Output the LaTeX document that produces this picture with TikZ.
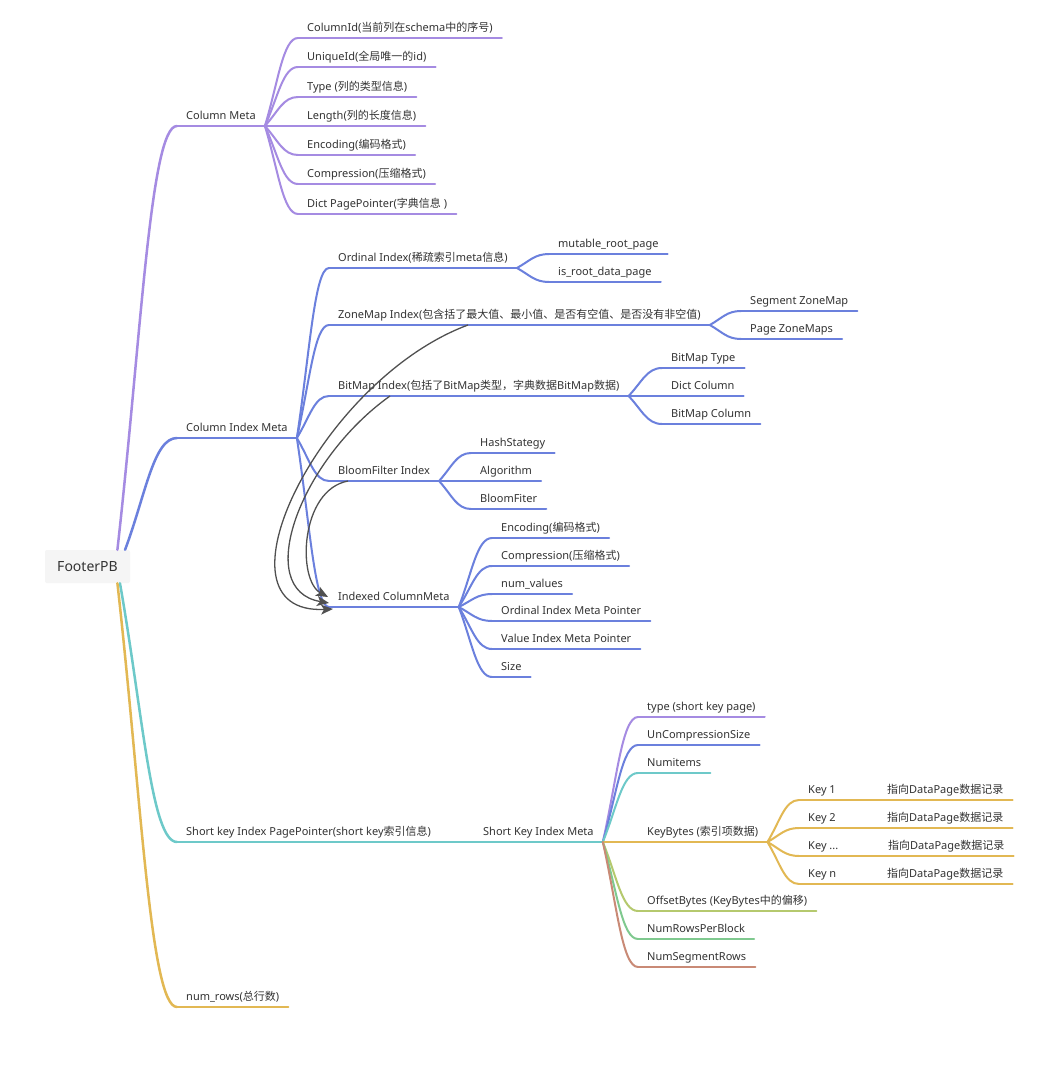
\documentclass[tikz,border=0pt]{standalone}
\usepackage{fontspec}
\setmainfont{Noto Sans}
\newfontfamily\cjkfont{Noto Sans CJK SC}
\usetikzlibrary{calc,arrows.meta}
\newcommand\zh[1]{{\cjkfont #1}}
\definecolor{cpurple}{HTML}{A58BE2}
\definecolor{cblue}{HTML}{6B80DD}
\definecolor{cteal}{HTML}{6DC9C9}
\definecolor{cyellow}{HTML}{E2B853}
\definecolor{cygreen}{HTML}{B5C96E}
\definecolor{cgreen}{HTML}{7FC98F}
\definecolor{cbrown}{HTML}{C98A76}
\definecolor{ctext}{HTML}{333333}
\definecolor{carrow}{HTML}{505050}
\definecolor{rootfill}{HTML}{F5F5F5}
\newcommand\mmlink[3]{%
  \draw[#3] let \p1=(#1), \p2=(#2) in
    (\p1) .. controls ({\x1+0.4*(\x2-\x1)},{\y1+0.5*(\y2-\y1)}) and ({\x1+0.55*(\x2-\x1)},{\y2}) .. (\p2);}
\newcommand\topic[5]{%
  \node[topic] (#1) at (#2,#3) {#5};
  \draw[ln,#4] (#1.south west) -- (#1.south east);}
\begin{document}
\begin{tikzpicture}[x=1pt,y=-1pt,
  topic/.style={anchor=south west, inner xsep=9pt, inner ysep=0pt, text height=8pt, text depth=6pt, font=\fontsize{11}{13}\selectfont, text=ctext},
  ln/.style={line width=2pt, line cap=round},
  lone/.style={line width=2.5pt, line cap=round},
  garrow/.style={draw=carrow, line width=1.3pt, -{Stealth[length=12pt,width=10pt,inset=3pt]}}
]
\useasboundingbox (0,0) rectangle (1042,1086);
\fill[white] (0,0) rectangle (1042,1086);

% root
\node[fill=rootfill, rounded corners=2pt, minimum width=85pt, minimum height=33pt, inner sep=0pt, font=\fontsize{14}{16}\selectfont, text=ctext] (root) at (87.5,566.5) {FooterPB};
\coordinate (rt1) at ($(root.north west)!0.85!(root.north east)$);
\coordinate (rt2) at ($(root.north west)!0.94!(root.north east)$);
\coordinate (rb1) at ($(root.south west)!0.88!(root.south east)$);
\coordinate (rb2) at ($(root.south west)!0.85!(root.south east)$);

% Column Meta
\topic{cm}{177}{126}{cpurple}{Column Meta}
\topic{cm1}{298}{38}{cpurple}{ColumnId(\zh{当前列在}schema\zh{中的序号})}
\topic{cm2}{298}{67}{cpurple}{UniqueId(\zh{全局唯一的}id)}
\topic{cm3}{298}{97}{cpurple}{Type (\zh{列的类型信息})}
\topic{cm4}{298}{126}{cpurple}{Length(\zh{列的长度信息})}
\topic{cm5}{298}{155}{cpurple}{Encoding(\zh{编码格式})}
\topic{cm6}{298}{184}{cpurple}{Compression(\zh{压缩格式})}
\topic{cm7}{298}{214}{cpurple}{Dict PagePointer(\zh{字典信息} )}
\foreach \i in {1,...,7} {\mmlink{cm.south east}{cm\i.south west}{ln,cpurple}}

% Column Index Meta
\topic{cim}{177}{438}{cblue}{Column Index Meta}
\topic{oi}{329}{268}{cblue}{Ordinal Index(\zh{稀疏索引}meta\zh{信息})}
\topic{oi1}{549}{254}{cblue}{mutable\_root\_page}
\topic{oi2}{549}{282}{cblue}{is\_root\_data\_page}
\topic{zm}{329}{325}{cblue}{ZoneMap Index(\zh{包含括了最大值、最小值、是否有空值、是否没有非空值})}
\topic{zm1}{741}{311}{cblue}{Segment ZoneMap}
\topic{zm2}{741}{339}{cblue}{Page ZoneMaps}
\topic{bm}{329}{396}{cblue}{BitMap Index(\zh{包括了}BitMap\zh{类型，字典数据}BitMap\zh{数据})}
\topic{bm1}{662}{368}{cblue}{BitMap Type}
\topic{bm2}{662}{396}{cblue}{Dict Column}
\topic{bm3}{662}{424}{cblue}{BitMap Column}
\topic{bf}{329}{481}{cblue}{BloomFilter Index}
\topic{bf1}{471}{453}{cblue}{HashStategy}
\topic{bf2}{471}{481}{cblue}{Algorithm}
\topic{bf3}{471}{509}{cblue}{BloomFiter}
\topic{icm}{329}{607}{cblue}{Indexed ColumnMeta}
\topic{ic1}{492}{538}{cblue}{Encoding(\zh{编码格式})}
\topic{ic2}{492}{566}{cblue}{Compression(\zh{压缩格式})}
\topic{ic3}{492}{594}{cblue}{num\_values}
\topic{ic4}{492}{621}{cblue}{Ordinal Index Meta Pointer}
\topic{ic5}{492}{649}{cblue}{Value Index Meta Pointer}
\topic{ic6}{492}{677}{cblue}{Size}
\foreach \q in {oi,zm,bm,bf,icm} {\mmlink{cim.south east}{\q.south west}{ln,cblue}}
\foreach \i in {1,2} {\mmlink{oi.south east}{oi\i.south west}{ln,cblue}}
\foreach \i in {1,2} {\mmlink{zm.south east}{zm\i.south west}{ln,cblue}}
\foreach \i in {1,2,3} {\mmlink{bm.south east}{bm\i.south west}{ln,cblue}}
\foreach \i in {1,2,3} {\mmlink{bf.south east}{bf\i.south west}{ln,cblue}}
\foreach \i in {1,...,6} {\mmlink{icm.south east}{ic\i.south west}{ln,cblue}}

% gray arrows
\draw[garrow] ($(zm.south west)+(139,0)$) .. controls (320,380) and (205,615) .. ($(icm.south west)+(4,2)$);
\draw[garrow] ($(bm.south west)+(61,0)$) .. controls (300,460) and (252,590) .. ($(icm.south west)+(0,-4)$);
\draw[garrow] ($(bf.south west)+(19,0)$) .. controls (300,490) and (297,580) .. ($(icm.south west)+(-1,-10)$);

% Short key
\topic{sk}{177}{842}{cteal}{Short key Index PagePointer(short key\zh{索引信息})}
\topic{skm}{474}{842}{cteal}{Short Key Index Meta}
\mmlink{sk.south east}{skm.south west}{ln,cteal}
\topic{sk1}{638}{717}{cpurple}{type (short key page)}
\topic{sk2}{638}{745}{cblue}{UnCompressionSize}
\topic{sk3}{638}{773}{cteal}{Numitems}
\topic{sk4}{638}{842}{cyellow}{KeyBytes (\zh{索引项数据})}
\topic{sk5}{638}{911}{cygreen}{OffsetBytes (KeyBytes\zh{中的偏移})}
\topic{sk6}{638}{939}{cgreen}{NumRowsPerBlock}
\topic{sk7}{638}{967}{cbrown}{NumSegmentRows}
\mmlink{skm.south east}{sk1.south west}{ln,cpurple}
\mmlink{skm.south east}{sk2.south west}{ln,cblue}
\mmlink{skm.south east}{sk3.south west}{ln,cteal}
\mmlink{skm.south east}{sk4.south west}{ln,cyellow}
\mmlink{skm.south east}{sk5.south west}{ln,cygreen}
\mmlink{skm.south east}{sk6.south west}{ln,cgreen}
\mmlink{skm.south east}{sk7.south west}{ln,cbrown}
\topic{k1}{799}{800}{cyellow}{Key 1}
\topic{k2}{799}{828}{cyellow}{Key 2}
\topic{k3}{799}{856}{cyellow}{Key ...}
\topic{k4}{799}{884}{cyellow}{Key n}
\topic{t1}{878}{800}{cyellow}{\zh{指向}DataPage\zh{数据记录}}
\topic{t2}{878}{828}{cyellow}{\zh{指向}DataPage\zh{数据记录}}
\topic{t3}{879}{856}{cyellow}{\zh{指向}DataPage\zh{数据记录}}
\topic{t4}{878}{884}{cyellow}{\zh{指向}DataPage\zh{数据记录}}
\foreach \i in {1,...,4} {\mmlink{sk4.south east}{k\i.south west}{ln,cyellow}
  \mmlink{k\i.south east}{t\i.south west}{ln,cyellow}}

% num rows
\topic{nr}{177}{1007}{cyellow}{num\_rows(\zh{总行数})}

% level-1 links
\mmlink{rt1}{cm.south west}{lone,cpurple}
\mmlink{rt2}{cim.south west}{lone,cblue}
\mmlink{rb1}{sk.south west}{lone,cteal}
\mmlink{rb2}{nr.south west}{lone,cyellow}
\end{tikzpicture}
\end{document}
